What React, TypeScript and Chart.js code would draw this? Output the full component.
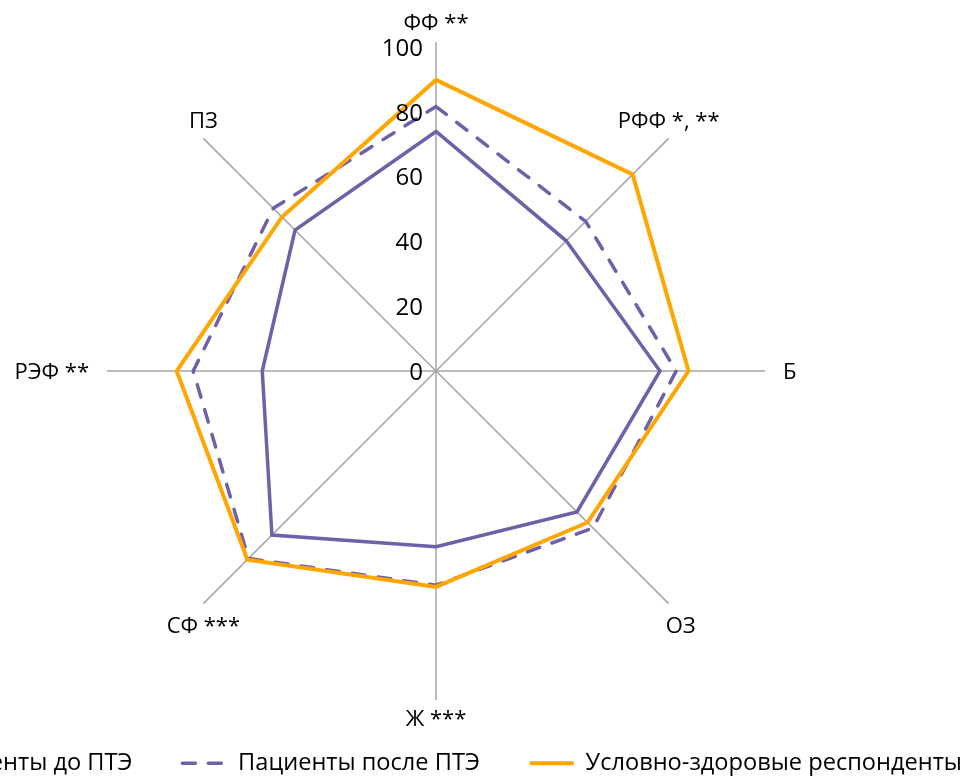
import React, { useEffect, useRef } from "react";
import { Chart, registerables } from "chart.js";

Chart.register(...registerables);

const categories = ["ФФ **", "РФФ *, **", "Б", "ОЗ", "Ж ***", "СФ ***", "РЭФ **", "ПЗ"];
const seriesNames = ["Пациенты до ПТЭ", "Пациенты после ПТЭ", "Условно-здоровые респонденты"];
const beforeValues = [73.9, 56.8, 69.1, 61.5, 54.2, 71.6, 53.6, 61.5];
const afterValues = [81.6, 65.3, 74.1, 68.5, 66.1, 81.8, 74.9, 71.0];
const healthyValues = [89.8, 85.8, 77.9, 66.1, 66.6, 82.3, 80.0, 67.2];
const tickValues = [0, 20, 40, 60, 80, 100];

const FONT = "'Open Sans', sans-serif";
const PURPLE = "#7060A8";
const ORANGE = "#FFA600";

const CANVAS_W = 1224;
const CANVAS_H = 785;
const CANVAS_LEFT = -176;

const labelsPlugin = {
  id: "customRadarLabels",
  afterDatasetsDraw(chart: any) {
    const scale = chart.scales.r;
    const ctx = chart.ctx;
    ctx.save();
    ctx.fillStyle = "#000";
    ctx.textBaseline = "middle";
    ctx.font = `24px ${FONT}`;
    ctx.textAlign = "right";
    tickValues.forEach((v) => {
      const y = scale.yCenter - scale.getDistanceFromCenterForValue(v);
      ctx.fillText(String(v), scale.xCenter - 13, y + 2);
    });
    ctx.font = `22px ${FONT}`;
    categories.forEach((c, i) => {
      const p = scale.getPointPosition(i, scale.drawingArea);
      const dx = p.x - scale.xCenter;
      const dy = p.y - scale.yCenter;
      if (Math.abs(dy) < 2) {
        ctx.textAlign = dx > 0 ? "left" : "right";
        ctx.fillText(c, p.x + (dx > 0 ? 18 : -18), p.y + 1.5);
      } else if (Math.abs(dx) < 2) {
        ctx.textAlign = "center";
        ctx.fillText(c, p.x, p.y + (dy > 0 ? 20 : -18));
      } else {
        ctx.textAlign = "center";
        const xOff = dx > 0 && dy > 0 ? 12 : 0;
        ctx.fillText(c, p.x + xOff, p.y + (dy > 0 ? 23.5 : -16.5));
      }
    });
    ctx.restore();
  },
};

export default function App() {
  const ref = useRef<HTMLCanvasElement | null>(null);

  useEffect(() => {
    if (!ref.current) return;
    Chart.defaults.font.family = FONT;
    const baseGen = (Chart.defaults as any).plugins.legend.labels.generateLabels;
    const chart = new Chart(ref.current, {
      type: "radar",
      data: {
        labels: categories,
        datasets: [
          {
            label: seriesNames[2],
            data: healthyValues,
            borderColor: ORANGE,
            backgroundColor: "transparent",
            borderWidth: 4,
            fill: false,
          },
          {
            label: seriesNames[1],
            data: afterValues,
            borderColor: PURPLE,
            backgroundColor: "transparent",
            borderWidth: 3.5,
            borderDash: [13, 13],
            borderCapStyle: "round",
            fill: false,
          },
          {
            label: seriesNames[0],
            data: beforeValues,
            borderColor: PURPLE,
            backgroundColor: "transparent",
            borderWidth: 3.5,
            fill: false,
          },
        ],
      },
      options: {
        animation: false,
        responsive: false,
        maintainAspectRatio: false,
        layout: { padding: { top: 42, bottom: 0, left: 0, right: 0 } },
        elements: {
          point: { radius: 0, hoverRadius: 0 },
          line: { tension: 0 },
        },
        plugins: {
          legend: {
            position: "bottom",
            align: "start",
            reverse: true,
            labels: {
              usePointStyle: true,
              pointStyle: "line",
              pointStyleWidth: 44,
              padding: 50,
              color: "#000",
              font: { size: 23.6, family: FONT },
              generateLabels: (chart: any) => {
                const items = baseGen(chart);
                items.forEach((it: any) => {
                  const ds = chart.data.datasets[it.datasetIndex];
                  it.lineDash = ds.borderDash || [];
                  it.lineWidth = ds.borderWidth;
                  it.strokeStyle = ds.borderColor;
                  it.fillStyle = "transparent";
                  it.lineCap = ds.borderCapStyle || "butt";
                  it.pointStyle = "line";
                });
                return items;
              },
            },
          },
          tooltip: { enabled: false },
        },
        scales: {
          r: {
            min: 0,
            max: 101.5,
            ticks: { display: false, stepSize: 20 },
            grid: { display: false },
            angleLines: { display: true, color: "#A6A6A6", lineWidth: 1.5 },
            pointLabels: { display: false },
          },
        },
      },
      plugins: [labelsPlugin],
    } as any);
    return () => chart.destroy();
  }, []);

  return (
    <div
      style={{
        position: "fixed",
        left: 0,
        top: 0,
        width: "100vw",
        height: "100vh",
        overflow: "hidden",
        background: "#fff",
      }}
    >
      <div
        style={{
          position: "absolute",
          left: CANVAS_LEFT,
          top: 0,
          width: CANVAS_W,
          height: CANVAS_H,
        }}
      >
        <canvas ref={ref} width={CANVAS_W} height={CANVAS_H} />
      </div>
    </div>
  );
}
